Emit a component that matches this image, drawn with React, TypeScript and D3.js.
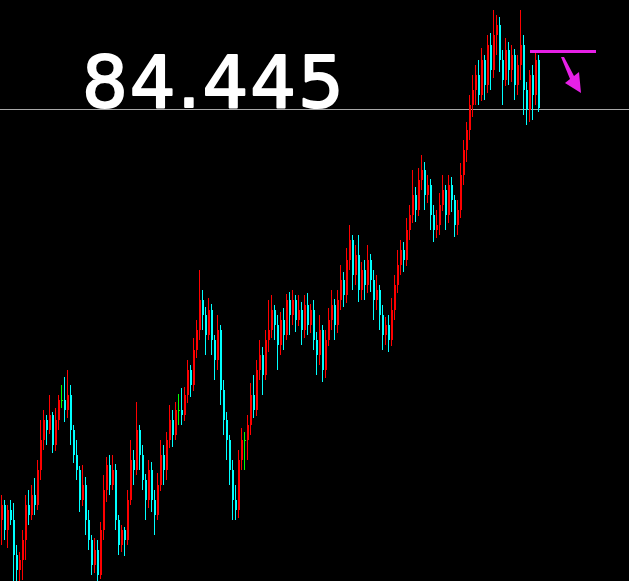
import React, { useEffect } from 'react'
import * as d3 from 'd3'

// price bars, oldest first
const open = [80.33,
  80.48,80.23,80.43,80.33,79.98,79.83,79.93,80.13,80.48,80.38,
  80.58,80.48,80.83,81.13,81.33,81.23,81.38,81.08,81.33,81.53,
  81.53,81.43,81.58,81.23,80.98,80.83,80.53,80.68,80.33,80.13,
  79.88,80.03,79.78,80.23,80.63,80.88,80.68,80.83,80.33,80.08,
  80.23,80.13,80.53,80.93,80.83,81.23,80.98,80.73,80.53,80.83,
  80.53,80.38,80.68,80.98,80.83,81.13,81.33,81.18,81.43,81.43,
  81.38,81.58,81.83,81.68,82.03,82.23,82.53,82.38,82.18,82.43,
  82.13,81.93,82.23,81.63,81.33,81.13,80.83,80.53,80.43,80.93,
  81.13,81.13,81.28,81.58,81.43,81.83,81.98,81.78,82.13,82.23,
  82.43,82.28,82.08,82.33,82.18,82.53,82.38,82.53,82.33,82.43,
  82.23,82.48,82.28,82.43,82.13,81.98,82.23,81.83,82.13,82.33,
  82.48,82.28,82.53,82.73,82.58,82.93,83.13,82.78,82.98,82.63,
  82.83,82.68,82.93,82.73,82.53,82.63,82.38,82.18,82.28,82.13,
  82.43,82.68,82.88,83.03,82.93,83.23,83.38,83.58,83.43,83.73,
  83.83,83.58,83.68,83.38,83.23,83.28,83.48,83.63,83.38,83.68,
  83.53,83.28,83.43,83.78,84.03,84.23,84.48,84.63,84.78,84.58,
  84.93,84.68,85.08,84.83,85.18,85.28,84.93,84.73,85.03,84.83,
  84.98,84.68,84.88,85.08,84.63,84.43,84.78,84.58,84.93]

const close = [
  80.48,80.23,80.43,80.33,79.98,79.83,79.93,80.13,80.48,80.38,
  80.58,80.48,80.83,81.13,81.33,81.23,81.38,81.08,81.33,81.53,
  81.53,81.43,81.58,81.23,80.98,80.83,80.53,80.68,80.33,80.13,
  79.88,80.03,79.78,80.23,80.63,80.88,80.68,80.83,80.33,80.08,
  80.23,80.13,80.53,80.93,80.83,81.23,80.98,80.73,80.53,80.83,
  80.53,80.38,80.68,80.98,80.83,81.13,81.33,81.18,81.43,81.43,
  81.38,81.58,81.83,81.68,82.03,82.23,82.53,82.38,82.18,82.43,
  82.13,81.93,82.23,81.63,81.33,81.13,80.83,80.53,80.43,80.93,
  81.13,81.13,81.28,81.58,81.43,81.83,81.98,81.78,82.13,82.23,
  82.43,82.28,82.08,82.33,82.18,82.53,82.38,82.53,82.33,82.43,
  82.23,82.48,82.28,82.43,82.13,81.98,82.23,81.83,82.13,82.33,
  82.48,82.28,82.53,82.73,82.58,82.93,83.13,82.78,82.98,82.63,
  82.83,82.68,82.93,82.73,82.53,82.63,82.38,82.18,82.28,82.13,
  82.43,82.68,82.88,83.03,82.93,83.23,83.38,83.58,83.43,83.73,
  83.83,83.58,83.68,83.38,83.23,83.28,83.48,83.63,83.38,83.68,
  83.53,83.28,83.43,83.78,84.03,84.23,84.48,84.63,84.78,84.58,
  84.93,84.68,85.08,84.83,85.18,85.28,84.93,84.73,85.03,84.83,
  84.98,84.68,84.88,85.08,84.63,84.43,84.78,84.58,84.93,84.45]

const high = [
  80.58,80.53,80.48,80.53,80.50,80.08,80.01,80.23,80.58,80.63,
  80.68,80.75,80.93,81.33,81.43,81.38,81.58,81.41,81.45,81.58,
  81.68,81.76,81.83,81.68,81.28,81.13,80.87,80.88,80.76,80.43,
  80.18,80.15,80.13,80.31,80.78,80.96,80.98,80.98,80.89,80.38,
  80.28,80.26,80.63,81.13,81.03,81.51,81.28,81.08,80.79,80.93,
  80.91,80.63,80.80,81.13,81.08,81.21,81.48,81.43,81.51,81.59,
  81.65,81.66,81.93,81.88,82.15,82.33,82.83,82.63,82.46,82.55,
  82.49,82.18,82.38,82.28,81.73,81.41,81.18,80.93,80.68,81.03,
  81.25,81.21,81.38,81.70,81.78,81.93,82.13,82.06,82.23,82.53,
  82.58,82.48,82.38,82.41,82.45,82.59,82.61,82.63,82.58,82.58,
  82.51,82.58,82.60,82.49,82.53,82.21,82.38,82.28,82.23,82.45,
  82.63,82.54,82.63,82.88,82.81,83.05,83.28,83.18,83.08,83.18,
  82.91,82.93,83.08,82.99,82.83,82.78,82.68,82.48,82.36,82.38,
  82.55,82.78,83.03,83.13,83.11,83.35,83.48,83.83,83.66,83.85,
  83.98,83.91,83.78,83.74,83.48,83.43,83.60,83.78,83.68,83.78,
  83.76,83.58,83.53,83.90,84.13,84.31,84.58,84.78,84.88,84.93,
  85.05,84.98,85.18,85.20,85.43,85.38,85.36,85.03,85.15,85.11,
  85.08,85.04,84.98,85.43,85.18,84.71,84.83,84.88,85.01,84.98]

const low = [
  80.08,80.13,80.05,80.28,79.72,79.72,79.72,79.73,79.93,80.28,
  80.33,80.38,80.43,80.73,81.03,81.08,81.19,81.00,81.02,81.23,
  81.45,81.31,81.35,81.08,80.90,80.73,80.41,80.47,80.18,80.03,
  79.78,79.80,79.72,79.74,80.13,80.51,80.58,80.63,80.23,79.98,
  80.01,79.97,80.08,80.48,80.68,80.78,80.83,80.63,80.33,80.45,
  80.41,80.18,80.33,80.62,80.68,80.73,81.05,81.06,81.13,81.28,
  81.28,81.32,81.50,81.56,81.62,81.95,82.13,82.23,81.98,82.13,
  81.98,81.73,81.83,81.48,81.18,80.93,80.68,80.33,80.33,80.35,
  80.83,80.83,80.93,81.18,81.35,81.37,81.73,81.58,81.73,82.01,
  82.15,82.13,81.83,81.98,82.03,82.13,82.18,82.28,82.21,82.27,
  82.08,82.15,82.18,82.20,82.03,81.78,81.88,81.71,81.75,82.07,
  82.23,82.13,82.20,82.43,82.46,82.50,82.83,82.63,82.68,82.51,
  82.53,82.53,82.60,82.61,82.33,82.43,82.23,82.03,82.08,82.01,
  82.07,82.33,82.60,82.78,82.81,82.87,83.13,83.30,83.31,83.37,
  83.63,83.43,83.50,83.23,83.11,83.15,83.18,83.42,83.23,83.30,
  83.41,83.16,83.18,83.35,83.68,83.91,84.13,84.36,84.48,84.48,
  84.52,84.53,84.60,84.63,84.75,84.98,84.81,84.48,84.67,84.68,
  84.71,84.53,84.58,84.73,84.38,84.28,84.31,84.33,84.48,84.41]

const lastPrice = 84.445
const lastLabel = '84.445'

const W = 629
const H = 581

export default function App() {
  useEffect(() => {
    document.body.style.margin = '0'
    document.body.style.background = '#000'
  }, [])

  const x = d3.scaleLinear().domain([0, close.length - 1]).range([1, 538])
  const y = d3.scaleLinear().domain([79.72, 85.53]).range([H, 0])

  // hand-drawn style arrow, pointing down-right
  const arrow = '561,57 564,57 574,76 579,72 581,93 565,83 570,79'

  return (
    <svg width={W} height={H} style={{ position: 'fixed', left: 0, top: 0, background: '#000', display: 'block' }}>
      <rect width={W} height={H} fill="#000" />
      <line x1={0} x2={W} y1={Math.round(y(lastPrice)) + 0.5} y2={Math.round(y(lastPrice)) + 0.5} stroke="#a8a8a8" strokeWidth={1} />
      <g shapeRendering="crispEdges">
        {close.map((c, i) => {
          const o = open[i]
          const col = c > o ? '#ff0000' : (c === o ? '#00ff00' : '#00ffff')
          const cx = Math.round(x(i))
          const top = Math.round(y(Math.max(o, c)))
          const bot = Math.round(y(Math.min(o, c)))
          const hy = Math.round(y(high[i]))
          const ly = Math.round(y(low[i]))
          return (
            <g key={i}>
              <rect x={cx} y={hy} width={1} height={Math.max(1, ly - hy)} fill={col} />
              <rect x={cx} y={top} width={2} height={Math.max(1, bot - top)} fill={col} />
            </g>
          )
        })}
      </g>
      <text x={82} y={107} fill="#fff" stroke="#fff" strokeWidth={2} strokeLinejoin="round"
        fontFamily="'DejaVu Sans', sans-serif" fontSize={72} letterSpacing={2}>{lastLabel}</text>
      <rect x={530} y={50} width={66} height={3} fill="#e620e6" />
      <polygon points={arrow} fill="#e620e6" />
    </svg>
  )
}
